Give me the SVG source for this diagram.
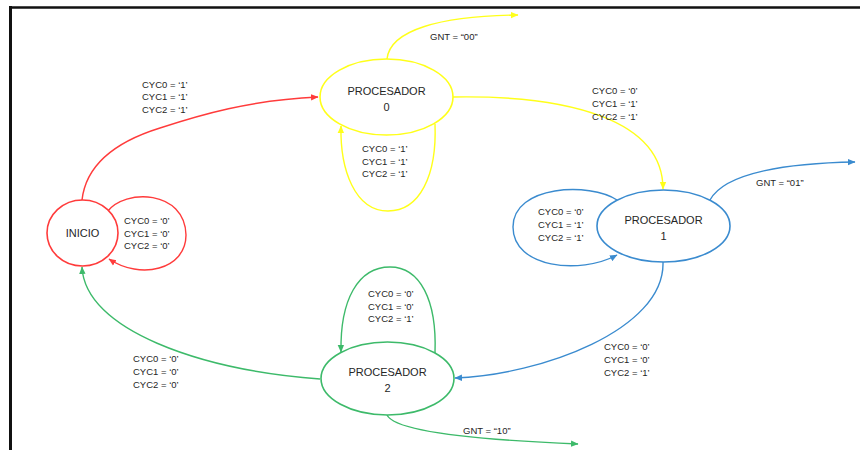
<svg xmlns="http://www.w3.org/2000/svg" width="860" height="450" viewBox="0 0 860 450">
<defs>
<style>
.t{font-family:"Liberation Sans",Arial,sans-serif;font-size:9.5px;fill:#262626}
.n{font-family:"Liberation Sans",Arial,sans-serif;font-size:11px;fill:#262626;text-anchor:middle}
.e{fill:none;stroke-width:1.4}
.red{stroke:#FF3B3B}.yel{stroke:#FFFF1A}.blu{stroke:#3A8BCF}.grn{stroke:#3DBA6A}
.node{fill:#fff;stroke-width:1.6}
</style>
<marker id="aR" markerUnits="userSpaceOnUse" markerWidth="8" markerHeight="8" viewBox="0 0 8 8" refX="7" refY="4" orient="auto"><path d="M0,0.8 L7.5,4 L0,7.2 Z" fill="#FF3B3B"/></marker>
<marker id="aY" markerUnits="userSpaceOnUse" markerWidth="8" markerHeight="8" viewBox="0 0 8 8" refX="7" refY="4" orient="auto"><path d="M0,0.8 L7.5,4 L0,7.2 Z" fill="#FFFF1A"/></marker>
<marker id="aB" markerUnits="userSpaceOnUse" markerWidth="8" markerHeight="8" viewBox="0 0 8 8" refX="7" refY="4" orient="auto"><path d="M0,0.8 L7.5,4 L0,7.2 Z" fill="#3A8BCF"/></marker>
<marker id="aG" markerUnits="userSpaceOnUse" markerWidth="8" markerHeight="8" viewBox="0 0 8 8" refX="7" refY="4" orient="auto"><path d="M0,0.8 L7.5,4 L0,7.2 Z" fill="#3DBA6A"/></marker>
</defs>
<rect width="860" height="450" fill="#fff"/>
<g id="frame" stroke="#111" fill="none">
<line x1="9" y1="7.5" x2="860" y2="7.5" stroke-width="2.5"/>
<line x1="10.5" y1="6" x2="10.5" y2="450" stroke-width="3"/>
</g>
<g id="connectors">
<path class="e red" d="M82,200 C86,165 115,142 160,128 C200,115 250,100 318,97" marker-end="url(#aR)"/>
<path class="e red" d="M107,212 C125,188 185,190 186,235 C186,270 140,280 109,259" marker-end="url(#aR)"/>
<path class="e yel" d="M387,59 C390,30 440,16 518,15" marker-end="url(#aY)"/>
<path class="e yel" d="M435,124 C437,175 420,211 388,211 C355,211 340,170 341,126" marker-end="url(#aY)"/>
<path class="e yel" d="M453,97 C570,95 663,120 663,189" marker-end="url(#aY)"/>
<path class="e blu" d="M710,200 C725,172 790,163 855,162" marker-end="url(#aB)"/>
<path class="e blu" d="M617,200 C590,182 513,185 513,227 C513,268 580,275 617,255" marker-end="url(#aB)"/>
<path class="e blu" d="M663,262 C665,330 540,375 455,378" marker-end="url(#aB)"/>
<path class="e grn" d="M435,353 C437,300 420,267 390,267 C358,267 340,300 341,352" marker-end="url(#aG)"/>
<path class="e grn" d="M320,379 C200,370 85,330 82,267" marker-end="url(#aG)"/>
<path class="e grn" d="M387,415 C395,432 480,440 578,444" marker-end="url(#aG)"/>
</g>
<g id="labels">
<text class="t" x="142" y="87.5">CYC0 = ‘1’</text><text class="t" x="142" y="100.3">CYC1 = ‘1’</text><text class="t" x="142" y="113">CYC2 = ‘1’</text>
<text class="t" x="362" y="151.7">CYC0 = ‘1’</text><text class="t" x="362" y="164.5">CYC1 = ‘1’</text><text class="t" x="362" y="177.3">CYC2 = ‘1’</text>
<text class="t" x="430" y="40">GNT = “00”</text>
<text class="t" x="592" y="94.2">CYC0 = ‘0’</text><text class="t" x="592" y="107">CYC1 = ‘1’</text><text class="t" x="592" y="119.8">CYC2 = ‘1’</text>
<text class="t" x="538" y="215.2">CYC0 = ‘0’</text><text class="t" x="538" y="228">CYC1 = ‘1’</text><text class="t" x="538" y="240.8">CYC2 = ‘1’</text>
<text class="t" x="756" y="185.5">GNT = “01”</text>
<text class="t" x="604" y="350.2">CYC0 = ‘0’</text><text class="t" x="604" y="363">CYC1 = ‘0’</text><text class="t" x="604" y="375.8">CYC2 = ‘1’</text>
<text class="t" x="368" y="296.7">CYC0 = ‘0’</text><text class="t" x="368" y="309.5">CYC1 = ‘0’</text><text class="t" x="368" y="322.3">CYC2 = ‘1’</text>
<text class="t" x="133" y="362.2">CYC0 = ‘0’</text><text class="t" x="133" y="375">CYC1 = ‘0’</text><text class="t" x="133" y="387.8">CYC2 = ‘0’</text>
<text class="t" x="124" y="223.7">CYC0 = ‘0’</text><text class="t" x="124" y="236.5">CYC1 = ‘0’</text><text class="t" x="124" y="249.3">CYC2 = ‘0’</text>
<text class="t" x="463" y="433.5">GNT = “10”</text>
</g>
<g id="inicio">
<ellipse class="node red" cx="82.5" cy="233" rx="35.5" ry="33"/>
<text class="n" x="82.5" y="237">INICIO</text>
</g>
<g id="procesador0">
<ellipse class="node yel" cx="386.5" cy="97" rx="66.5" ry="38"/>
<text class="n" x="386.5" y="95">PROCESADOR</text>
<text class="n" x="386.5" y="111">0</text>
</g>
<g id="procesador1">
<ellipse class="node blu" cx="663.5" cy="226" rx="66.5" ry="36"/>
<text class="n" x="663.5" y="224">PROCESADOR</text>
<text class="n" x="663.5" y="239.5">1</text>
</g>
<g id="procesador2">
<ellipse class="node grn" cx="387.5" cy="378.5" rx="66.5" ry="36.5"/>
<text class="n" x="387.5" y="376">PROCESADOR</text>
<text class="n" x="387.5" y="392">2</text>
</g>
</svg>
